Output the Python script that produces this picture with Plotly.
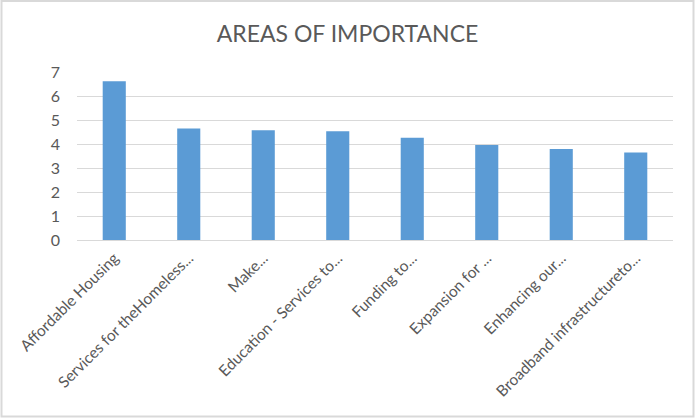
import plotly.graph_objects as go

categories = [
    "Affordable Housing",
    "Services for theHomeless...",
    "Make...",
    "Education - Services to...",
    "Funding to...",
    "Expansion for ...",
    "Enhancing our...",
    "Broadband infrastructureto...",
]
values = [6.61, 4.65, 4.57, 4.53, 4.26, 3.96, 3.79, 3.65]
y_ticks = [0, 1, 2, 3, 4, 5, 6, 7]

W, H = 695, 419
L, R, T, B = 77, 22, 72, 179
pw, ph = W - L - R, H - T - B

fig = go.Figure(go.Bar(
    x=categories, y=values,
    marker=dict(color="#5B9BD5", line=dict(width=0)),
    width=0.31,
))

def px_to_paper_x(px):
    return (px - L) / pw

def px_to_paper_y(py):
    return (H - B - py) / ph

fig.update_layout(
    width=W, height=H,
    margin=dict(l=L, r=R, t=T, b=B),
    paper_bgcolor="white", plot_bgcolor="white",
    font=dict(family="Lato", color="#595959"),
    title=dict(text="AREAS OF IMPORTANCE", x=0.5, xanchor="center",
               y=1 - 34 / H, yanchor="middle",
               font=dict(size=23, family="Lato", color="#595959")),
    showlegend=False,
    bargap=0.69,
    shapes=[dict(type="rect", xref="paper", yref="paper",
                 x0=px_to_paper_x(1.5), x1=px_to_paper_x(693.5),
                 y0=px_to_paper_y(416.5), y1=px_to_paper_y(1),
                 line=dict(color="#D9D9D9", width=2), fillcolor="rgba(0,0,0,0)",
                 layer="below")],
)
fig.update_yaxes(range=[0, 7], tickvals=y_ticks, showgrid=True, gridcolor="#D9D9D9",
                 gridwidth=1, zeroline=False, showline=False,
                 tickfont=dict(size=16, color="#595959"), ticks="", ticklen=0,
                 ticklabelstandoff=16)
fig.update_xaxes(showline=True, linecolor="#D9D9D9", linewidth=1, showgrid=False,
                 tickangle=-45, tickfont=dict(size=15.5, color="#595959"), ticks="",
                 ticklabelstandoff=2)

fig.write_html("out.html")
